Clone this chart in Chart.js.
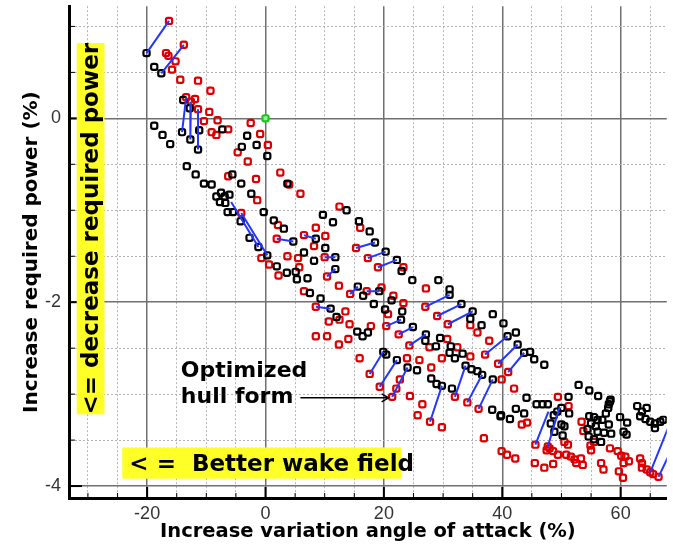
<!DOCTYPE html>
<html>
<head>
<meta charset="utf-8">
<script src="https://cdn.jsdelivr.net/npm/chart.js@4.4.1/dist/chart.umd.min.js"></script>
<style>
  html, body { margin: 0; padding: 0; background: #fff; }
  canvas { display: block; }
</style>
</head>
<body>
<canvas id="chart" width="673" height="546"></canvas>
<script>
// each design: [increase variation angle of attack (%), increase required power (%)]
const blackDesigns = [
  [-20.1,0.71],[-18.8,0.56],[-17.6,0.49],[-13.9,0.20],[-12.8,0.11],[-14.1,-0.15],[-12.7,-0.23],[-11.4,-0.34],
  [-11.2,-0.13],[-18.8,-0.08],[-17.4,-0.18],[-16.1,-0.28],[-7.3,-0.12],[-3.1,-0.19],[-4.0,-0.31],[-1.5,-0.29],
  [0.3,-0.41],[-13.3,-0.52],[-11.8,-0.61],[-5.6,-0.61],[3.7,-0.71],[-10.4,-0.71],[-9.1,-0.72],[-4.1,-0.71],
  [-2.4,-0.82],[-8.3,-0.85],[-7.5,-0.81],[-6.9,-0.85],[-6.1,-0.83],[-7.7,-0.91],[-6.8,-0.92],[-6.4,-1.02],
  [-5.5,-1.02],[-0.3,-1.02],[1.4,-1.11],[3.1,-1.20],[9.7,-1.05],[11.4,-1.13],[13.7,-1.00],[15.8,-1.12],
  [-4.2,-1.12],[-2.7,-1.30],[-1.2,-1.40],[0.3,-1.49],[4.7,-1.34],[8.5,-1.31],[10.1,-1.41],[6.5,-1.46],
  [8.2,-1.55],[11.8,-1.51],[11.8,-1.64],[1.9,-1.61],[3.6,-1.68],[5.1,-1.67],[5.3,-1.75],[7.1,-1.74],
  [7.5,-1.90],[9.3,-1.96],[15.6,-1.83],[16.5,-1.93],[17.6,-1.23],[18.5,-1.35],[20.3,-1.45],[22.2,-1.54],
  [23.0,-1.66],[24.8,-1.76],[29.2,-1.76],[31.1,-1.86],[31.1,-1.92],[11.0,-2.07],[12.0,-2.16],[19.2,-1.88],
  [21.3,-1.98],[18.3,-2.02],[20.2,-2.08],[23.1,-2.10],[22.9,-2.19],[24.9,-2.27],[33.1,-2.02],[35.0,-2.10],
  [34.6,-2.18],[38.4,-2.13],[27.1,-2.35],[27.0,-2.42],[28.8,-2.48],[29.5,-2.39],[31.3,-2.48],[31.1,-2.55],
  [32.0,-2.61],[33.3,-2.56],[15.5,-2.32],[16.4,-2.37],[17.3,-2.33],[36.5,-2.25],[19.9,-2.54],[20.4,-2.57],
  [22.2,-2.63],[24.0,-2.71],[25.6,-2.74],[28.0,-2.83],[28.9,-2.89],[29.8,-2.91],[31.5,-2.94],[33.8,-2.69],
  [34.8,-2.73],[35.8,-2.75],[36.6,-2.79],[38.4,-2.84],[38.3,-3.17],[39.7,-3.24],[40.2,-2.23],[42.3,-2.33],
  [40.9,-2.37],[42.6,-2.46],[43.7,-2.55],[44.7,-2.54],[45.4,-2.62],[47.1,-2.68],[52.9,-2.90],[54.7,-2.96],
  [56.2,-3.02],[58.3,-3.06],[44.1,-3.04],[51.2,-3.03],[45.8,-3.11],[46.8,-3.11],[47.7,-3.11],[39.8,-3.23],
  [41.3,-3.27],[42.3,-3.16],[43.7,-3.21],[48.7,-3.23],[49.3,-3.19],[50.0,-3.15],[51.3,-3.21],[48.2,-3.32],
  [50.0,-3.33],[50.5,-3.35],[48.8,-3.41],[50.2,-3.45],[54.7,-3.24],[55.5,-3.25],[56.1,-3.28],[58.0,-3.11],
  [58.2,-3.08],[57.9,-3.15],[57.5,-3.21],[56.9,-3.28],[58.0,-3.33],[55.0,-3.32],[55.8,-3.35],[54.4,-3.38],
  [56.1,-3.41],[57.2,-3.42],[58.4,-3.43],[55.5,-3.49],[56.7,-3.52],[54.6,-3.46],[59.9,-3.25],[61.1,-3.31],
  [60.5,-3.41],[61.0,-3.44],[62.8,-3.13],[63.6,-3.19],[64.4,-3.15],[63.3,-3.24],[64.2,-3.27],[65.0,-3.30],
  [65.8,-3.32],[66.7,-3.30],[67.2,-3.28],[65.8,-3.37]
];

const redDesigns = [
  [-16.3,1.06],[-13.8,0.80],[-16.8,0.71],[-16.4,0.68],[-15.2,0.62],[-15.8,0.53],[-14.4,0.42],[-11.4,0.41],
  [-9.3,0.30],[-13.4,0.23],[-11.9,0.21],[-12.6,0.18],[-11.4,0.10],[-9.5,0.07],[-10.4,-0.03],[-8.1,-0.02],
  [-9.1,-0.15],[-8.3,-0.18],[-6.3,-0.12],[-2.5,-0.05],[-0.9,-0.17],[0.4,-0.29],[-4.7,-0.37],[-3.0,-0.47],
  [2.5,-0.59],[-6.3,-0.63],[-1.6,-0.66],[4.0,-0.72],[5.9,-0.82],[-1.4,-0.89],[12.5,-0.96],[-4.1,-1.03],
  [16.0,-1.19],[8.5,-1.19],[2.1,-1.16],[1.9,-1.31],[6.5,-1.27],[8.2,-1.39],[3.7,-1.50],[5.5,-1.52],
  [-0.7,-1.52],[0.6,-1.59],[5.7,-1.62],[10.0,-1.51],[10.4,-1.72],[2.2,-1.71],[12.4,-1.82],[6.5,-1.88],
  [14.3,-1.91],[15.3,-1.41],[10.1,-1.28],[17.3,-1.52],[19.0,-1.62],[23.3,-1.62],[17.1,-1.88],[19.6,-1.84],
  [21.6,-1.93],[23.3,-2.01],[27.1,-1.85],[27.0,-2.05],[29.0,-2.15],[30.8,-2.24],[8.5,-2.05],[13.5,-2.10],
  [10.7,-2.21],[12.5,-2.19],[14.2,-2.24],[17.8,-2.26],[20.7,-2.13],[20.4,-2.26],[14.0,-2.40],[12.4,-2.46],
  [27.7,-2.49],[35.8,-2.33],[37.8,-2.42],[30.7,-2.40],[32.4,-2.49],[15.9,-2.61],[17.6,-2.78],[19.3,-2.92],
  [21.4,-3.03],[23.9,-2.61],[26.0,-2.63],[22.7,-2.84],[22.1,-2.94],[24.4,-3.02],[28.0,-2.71],[29.8,-2.61],
  [34.6,-2.59],[37.1,-2.57],[39.3,-2.67],[26.5,-3.11],[25.7,-3.23],[27.8,-3.30],[29.8,-3.36],[32.0,-3.03],
  [34.1,-3.09],[36.0,-3.16],[36.9,-3.48],[39.9,-3.62],[40.8,-3.66],[42.2,-3.70],[34.6,-2.25],[41.0,-2.76],
  [39.9,-2.84],[42.0,-2.94],[49.4,-3.03],[51.2,-3.13],[43.3,-3.33],[44.2,-3.31],[53.4,-3.30],[53.7,-3.40],
  [45.6,-3.55],[47.5,-3.61],[48.0,-3.59],[48.6,-3.62],[49.4,-3.66],[47.7,-3.57],[50.5,-3.52],[51.1,-3.55],
  [50.8,-3.66],[51.6,-3.68],[52.2,-3.71],[52.5,-3.75],[53.3,-3.70],[53.6,-3.77],[45.5,-3.75],[47.1,-3.80],
  [48.6,-3.76],[54.9,-3.56],[55.0,-3.61],[55.5,-3.52],[58.2,-3.59],[59.5,-3.62],[60.1,-3.67],[60.8,-3.68],
  [61.4,-3.73],[60.5,-3.75],[56.7,-3.75],[57.1,-3.82],[59.7,-3.84],[60.4,-3.91],[63.3,-3.70],[63.6,-3.75],
  [63.6,-3.80],[64.4,-3.82],[65.0,-3.85],[65.5,-3.87],[66.4,-3.90],[8.5,-2.37],[10.4,-2.37],[22.5,-2.35],
  [24.3,-2.47]
];

// blue links between two related designs: [from, to]
const designLinks = [
  [[-20.1,0.71],[-16.3,1.06]], [[-17.6,0.49],[-13.8,0.80]], [[-13.4,0.23],[-14.1,-0.15]],
  [[-12.6,0.18],[-12.7,-0.23]], [[-11.4,0.10],[-11.4,-0.34]], [[-5.8,-0.91],[-1.2,-1.40]],
  [[-4.1,-1.03],[0.3,-1.49]], [[1.9,-1.31],[4.7,-1.34]], [[6.5,-1.27],[8.5,-1.31]],
  [[10.0,-1.51],[11.8,-1.51]], [[10.4,-1.72],[11.8,-1.64]], [[8.5,-2.05],[11.0,-2.07]],
  [[14.3,-1.91],[15.6,-1.83]], [[15.3,-1.41],[18.5,-1.35]], [[17.3,-1.52],[20.3,-1.45]],
  [[19.0,-1.62],[22.2,-1.54]], [[17.1,-1.88],[19.2,-1.88]], [[20.4,-2.26],[22.9,-2.19]],
  [[27.0,-2.05],[31.1,-1.92]], [[29.0,-2.15],[33.1,-2.02]], [[30.8,-2.24],[35.0,-2.10]],
  [[22.5,-2.35],[24.9,-2.27]], [[24.3,-2.47],[27.1,-2.35]], [[17.6,-2.78],[19.9,-2.54]],
  [[19.3,-2.92],[22.2,-2.63]], [[21.4,-3.03],[24.0,-2.71]], [[27.8,-3.30],[29.8,-2.91]],
  [[32.0,-3.03],[33.8,-2.69]], [[34.1,-3.09],[36.6,-2.79]], [[36.0,-3.16],[38.4,-2.84]],
  [[37.1,-2.57],[40.9,-2.37]], [[39.3,-2.67],[42.6,-2.46]], [[41.0,-2.76],[43.7,-2.55]],
  [[45.6,-3.55],[47.8,-3.19]], [[47.7,-3.57],[49.7,-3.14]], [[65.0,-3.85],[68.0,-3.37]],
  [[66.4,-3.90],[69.0,-3.55]]
];

const baseline = [[0, 0]];

const xTickLabels = [-20, 0, 20, 40, 60];
const yTickLabels = [-4, -2, 0];
const optimizedAt = [20.8, -3.04];

const toPoints = arr => arr.map(([x, y]) => ({x, y}));
const linkData = [];
designLinks.forEach(([a, b]) => {
  linkData.push({x: a[0], y: a[1]}, {x: b[0], y: b[1]}, {x: b[0], y: null});
});

const BOLD = 'DejaVu Sans';
const isMajor = (list, v) => list.some(m => Math.abs(m - v) < 1e-6);

// inward tick marks, the yellow notes and the arrow
const notes = {
  id: 'notes',
  afterDatasetsDraw(chart) {
    const {ctx, chartArea: area, scales: {x, y}} = chart;
    ctx.save();
    ctx.strokeStyle = '#000';
    x.ticks.forEach(t => {
      const px = x.getPixelForValue(t.value);
      const major = isMajor(xTickLabels, t.value);
      ctx.lineWidth = major ? 2 : 1;
      ctx.beginPath();
      ctx.moveTo(px, area.bottom);
      ctx.lineTo(px, area.bottom - (major ? 11 : 5));
      ctx.stroke();
    });
    y.ticks.forEach(t => {
      const py = y.getPixelForValue(t.value);
      const major = isMajor(yTickLabels, t.value);
      ctx.lineWidth = major ? 2 : 1;
      ctx.beginPath();
      ctx.moveTo(area.left, py);
      ctx.lineTo(area.left + (major ? 13 : 6), py);
      ctx.stroke();
    });

    // vertical note
    const vx0 = x.getPixelForValue(-31.9), vx1 = x.getPixelForValue(-27.2);
    const vy0 = y.getPixelForValue(0.82), vy1 = y.getPixelForValue(-3.22);
    ctx.fillStyle = 'rgb(255,255,40)';
    ctx.fillRect(vx0, vy0, vx1 - vx0, vy1 - vy0);
    ctx.save();
    ctx.translate((vx0 + vx1) / 2 + 1, (vy0 + vy1) / 2);
    ctx.rotate(-Math.PI / 2);
    ctx.fillStyle = '#000';
    ctx.font = `bold 23px "${BOLD}"`;
    ctx.textAlign = 'center';
    ctx.textBaseline = 'middle';
    ctx.fillText('<= decrease required power', 0, 0);
    ctx.restore();

    // horizontal note
    const hx0 = x.getPixelForValue(-24.2), hx1 = x.getPixelForValue(22.9);
    const hy0 = y.getPixelForValue(-3.58), hy1 = y.getPixelForValue(-3.92);
    ctx.fillStyle = 'rgb(255,255,40)';
    ctx.fillRect(hx0, hy0, hx1 - hx0, hy1 - hy0);
    ctx.fillStyle = '#000';
    ctx.font = `bold 23px "${BOLD}"`;
    ctx.textAlign = 'left';
    ctx.textBaseline = 'alphabetic';
    ctx.fillText('< =  Better wake field', x.getPixelForValue(-23.0), y.getPixelForValue(-3.84));

    // optimized hull label and arrow
    ctx.font = `bold 22px "${BOLD}"`;
    ctx.fillText('Optimized', x.getPixelForValue(-14.3), y.getPixelForValue(-2.81));
    ctx.fillText('hull form', x.getPixelForValue(-14.3), y.getPixelForValue(-3.10));
    const ax0 = x.getPixelForValue(5.9);
    const ax1 = x.getPixelForValue(optimizedAt[0]);
    const ay = y.getPixelForValue(optimizedAt[1]);
    ctx.lineWidth = 1.5;
    ctx.beginPath();
    ctx.moveTo(ax0, ay);
    ctx.lineTo(ax1, ay);
    ctx.moveTo(ax1 - 7, ay - 4);
    ctx.lineTo(ax1, ay);
    ctx.lineTo(ax1 - 7, ay + 4);
    ctx.stroke();
    ctx.restore();
  }
};

const gridColor = list => ctx => ctx.tick && isMajor(list, ctx.tick.value) ? '#707070' : '#b4b4b4';
const gridWidth = list => ctx => ctx.tick && isMajor(list, ctx.tick.value) ? 1.5 : 1;
const gridDash = list => ctx => (!ctx.tick || isMajor(list, ctx.tick.value)) ? [] : [2, 2];

const marker = color => ({
  pointStyle: 'rectRounded',
  pointRadius: 3.6,
  pointBorderWidth: 2.2,
  pointBorderColor: color,
  pointBackgroundColor: 'transparent',
  borderColor: color,
  showLine: false
});

new Chart(document.getElementById('chart'), {
  type: 'scatter',
  data: {
    datasets: [
      Object.assign(marker('#19c819'), { label: 'baseline', data: toPoints(baseline), pointBackgroundColor: '#9cf09c' }),
      {
        label: 'links',
        data: linkData,
        showLine: true,
        spanGaps: false,
        borderColor: 'rgb(35,55,255)',
        borderWidth: 2,
        pointRadius: 0
      },
      Object.assign(marker('#000000'), { label: 'black', data: toPoints(blackDesigns) }),
      Object.assign(marker('#dc0000'), { label: 'red', data: toPoints(redDesigns) })
    ]
  },
  options: {
    responsive: false,
    devicePixelRatio: 1,
    animation: false,
    layout: { padding: { top: 6, right: 0, left: 0, bottom: 0 } },
    plugins: { legend: { display: false }, tooltip: { enabled: false } },
    scales: {
      x: {
        type: 'linear',
        min: -33.2,
        max: 67.8,
        afterFit: s => { s.height = 48; s.paddingLeft = 0; s.paddingRight = 0; },
        ticks: {
          stepSize: 5,
          includeBounds: false,
          autoSkip: false,
          maxRotation: 0,
          padding: 5,
          color: '#333',
          font: { family: 'Liberation Sans', size: 18 },
          callback: v => isMajor(xTickLabels, v) ? String(v) : ''
        },
        grid: {
          drawTicks: false,
          color: gridColor(xTickLabels),
          lineWidth: gridWidth(xTickLabels)
        },
        border: { display: true, color: '#000', width: 3, dash: gridDash(xTickLabels) },
        title: {
          display: true,
          text: 'Increase variation angle of attack (%)',
          color: '#000',
          font: { family: BOLD, size: 19.5, weight: 'bold' },
          padding: { top: 0, bottom: 2 }
        }
      },
      y: {
        type: 'linear',
        min: -4.13,
        max: 1.22,
        afterFit: s => { s.width = 69; s.paddingTop = 0; s.paddingBottom = 0; },
        ticks: {
          stepSize: 0.5,
          includeBounds: false,
          autoSkip: false,
          padding: 8,
          color: '#333',
          font: { family: 'Liberation Sans', size: 18 },
          callback: v => isMajor(yTickLabels, v) ? String(v) : ''
        },
        grid: {
          drawTicks: false,
          color: gridColor(yTickLabels),
          lineWidth: gridWidth(yTickLabels)
        },
        border: { display: true, color: '#000', width: 3, dash: gridDash(yTickLabels) },
        title: {
          display: true,
          text: 'Increase required power (%)',
          color: '#000',
          font: { family: BOLD, size: 20, weight: 'bold' },
          padding: { top: 20, bottom: 0 }
        }
      }
    }
  },
  plugins: [notes]
});
</script>
</body>
</html>
